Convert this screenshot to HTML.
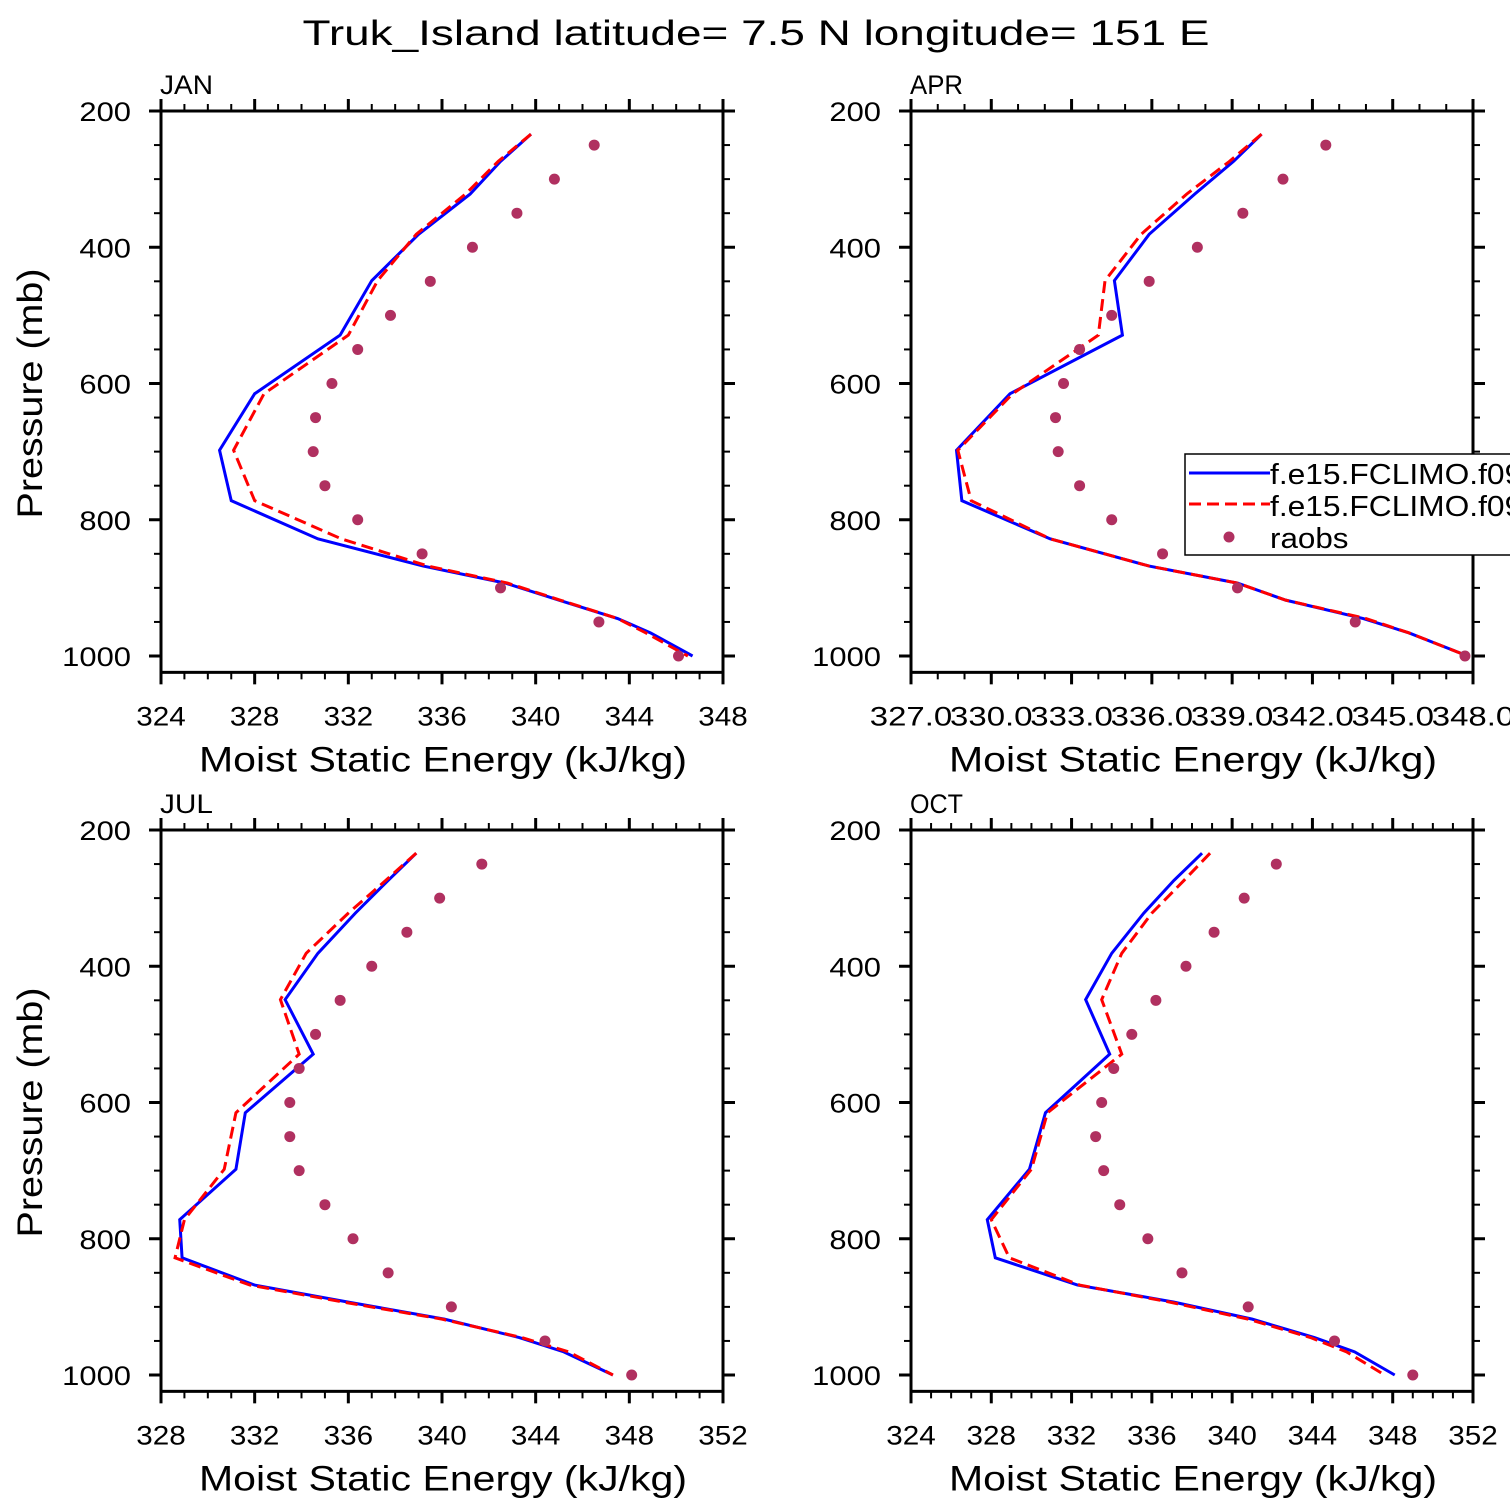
<!DOCTYPE html>
<html><head><meta charset="utf-8">
<style>
html,body{margin:0;padding:0;background:#fff;}
svg{display:block;font-family:"Liberation Sans",sans-serif;}
</style></head>
<body>
<svg id="chart" width="1510" height="1510" viewBox="0 0 1510 1510">
<text x="756" y="45" text-anchor="middle" font-size="35" fill="#000" textLength="907" lengthAdjust="spacingAndGlyphs">Truk_Island  latitude= 7.5 N longitude= 151 E</text>
</svg>
<script>
// ---- data ----
const modelLevels = [234,274,322,381,449,529,615,698,772,828,868,893,918,945,966,1000];
const raobLevels = [250,300,350,400,450,500,550,600,650,700,750,800,850,900,950,1000];

const janBlue = [339.8,338.5,337.2,335.0,333.0,331.65,328.0,326.5,327.0,330.7,335.2,338.7,341.0,343.5,344.9,346.7];
const janRed  = [339.8,338.4,337.0,334.9,333.25,332.0,328.4,327.1,328.0,331.7,335.4,338.8,341.05,343.5,344.7,346.5];
const janRaob = [342.5,340.8,339.2,337.3,335.5,333.8,332.4,331.3,330.6,330.5,331.0,332.4,335.15,338.5,342.7,346.1];

const aprBlue = [340.1,339.05,337.6,335.9,334.6,334.9,330.7,328.7,328.9,332.2,335.9,339.2,341.0,343.9,345.6,347.8];
const aprRed  = [340.1,338.9,337.3,335.6,334.25,334.0,330.8,328.75,329.25,332.2,335.9,339.2,341.0,344.0,345.6,347.8];
const aprRaob = [342.5,340.9,339.4,337.7,335.9,334.5,333.3,332.7,332.4,332.5,333.3,334.5,336.4,339.2,343.6,347.7];

const julBlue = [338.9,337.7,336.3,334.7,333.3,334.5,331.6,331.2,328.8,328.9,332.0,336.0,340.1,343.3,345.2,347.3];
const julRed  = [338.9,337.6,336.0,334.2,333.1,333.9,331.2,330.7,329.0,328.6,331.8,335.8,340.0,343.4,345.4,347.3];
const julRaob = [341.7,339.9,338.5,337.0,335.65,334.6,333.9,333.5,333.5,333.9,335.0,336.2,337.7,340.4,344.4,348.1];

const octBlue = [338.5,337.1,335.6,334.0,332.7,333.9,330.7,329.9,327.8,328.2,332.3,337.1,341.0,344.1,346.1,348.1];
const octRed  = [338.9,337.6,336.0,334.5,333.5,334.5,330.8,330.0,328.0,328.9,332.4,336.9,340.8,343.9,345.7,347.6];
const octRaob = [342.2,340.6,339.1,337.7,336.2,335.0,334.1,333.5,333.2,333.6,334.4,335.8,337.5,340.8,345.1,349.0];

const janTicks = [324,328,332,336,340,344,348];
const aprTicks = [327,330,333,336,339,342,345,348];
const julTicks = [328,332,336,340,344,348,352];
const octTicks = [324,328,332,336,340,344,348,352];
const pTicks = [200,400,600,800,1000];
const legendLabels = ["f.e15.FCLIMO.f09_f09","f.e15.FCLIMO.f09_f09","raobs"];

const NS = "http://www.w3.org/2000/svg";
const svg = document.getElementById('chart');
function mk(tag, attrs, parent){const e=document.createElementNS(NS,tag);for(const k in attrs)e.setAttribute(k,attrs[k]);(parent||svg).appendChild(e);return e;}

const panels = [
 {name:'jan',label:'JAN',x0:161,y0:111,xmin:324,xmax:348,ticks:janTicks,minor:1,fmt:v=>String(v),blue:janBlue,red:janRed,raob:janRaob,ylab:true},
 {name:'apr',label:'APR',x0:911,y0:111,xmin:327,xmax:348,ticks:aprTicks,minor:1,fmt:v=>v.toFixed(1),blue:aprBlue,red:aprRed,raob:aprRaob,ylab:false,legend:true},
 {name:'jul',label:'JUL',x0:161,y0:830,xmin:328,xmax:352,ticks:julTicks,minor:1,fmt:v=>String(v),blue:julBlue,red:julRed,raob:julRaob,ylab:true},
 {name:'oct',label:'OCT',x0:911,y0:830,xmin:324,xmax:352,ticks:octTicks,minor:1,fmt:v=>String(v),blue:octBlue,red:octRed,raob:octRaob,ylab:false}
];
const W=562, PPX=0.68125, PMAX=1024;

panels.forEach(P=>{
  const g = mk('g',{});
  
  
  const xs = v => P.x0 + (v-P.xmin)/(P.xmax-P.xmin)*W;
  const ys = p => P.y0 + (p-200)*PPX;
  const yb = ys(PMAX);
  const cid='clip-'+P.name;
  const cp=mk('clipPath',{id:cid},g); mk('rect',{x:P.x0,y:P.y0,width:W,height:yb-P.y0},cp);
  for(let v=P.xmin; v<=P.xmax+1e-9; v+=P.minor){
    const major = P.ticks.some(t=>Math.abs(t-v)<1e-6);
    const L = major?12:7;
    mk('line',{x1:xs(v),x2:xs(v),y1:P.y0,y2:P.y0-L,stroke:'#000','stroke-width':major?3:2},g);
    mk('line',{x1:xs(v),x2:xs(v),y1:yb,y2:yb+L,stroke:'#000','stroke-width':major?3:2},g);
  }
  for(let p=200;p<=1000;p+=50){
    const major = p%200===0;
    const L = major?12:7;
    mk('line',{x1:P.x0,x2:P.x0-L,y1:ys(p),y2:ys(p),stroke:'#000','stroke-width':major?3:2},g);
    mk('line',{x1:P.x0+W,x2:P.x0+W+L,y1:ys(p),y2:ys(p),stroke:'#000','stroke-width':major?3:2},g);
  }
  P.ticks.forEach(t=>{
    const s = P.fmt(t);
    const tl = mk('text',{x:xs(t),y:yb+53,'text-anchor':'middle','font-size':27,textLength:s.length*16.5,lengthAdjust:'spacingAndGlyphs'},g);
    tl.textContent = s;
    
    
  });
  pTicks.forEach(p=>{
    const s=String(p);
    const tl = mk('text',{x:P.x0-30,y:ys(p)+10,'text-anchor':'end','font-size':27,textLength:s.length*17.2,lengthAdjust:'spacingAndGlyphs'},g);
    tl.textContent = s;
    
    
  });
  const xt = mk('text',{x:P.x0+W/2+1,y:yb+99,'text-anchor':'middle','font-size':35,textLength:488,lengthAdjust:'spacingAndGlyphs'},g);
  xt.textContent='Moist Static Energy (kJ/kg)';
  
  
  if(P.ylab){
    const cy=(P.y0+ys(1000))/2+10;
    const yt = mk('text',{x:0,y:0,'text-anchor':'middle','font-size':35,textLength:250,lengthAdjust:'spacingAndGlyphs',transform:`translate(42,${cy}) rotate(-90)`},g);
    yt.textContent='Pressure (mb)';
    
    
  }
  const pl = mk('text',{x:P.x0-1,y:P.y0-17,'font-size':27,textLength:53,lengthAdjust:'spacingAndGlyphs'},g);
  pl.textContent=P.label;
  
  
  const dg = mk('g',{'clip-path':`url(#${cid})`},g);
  const ptsB = modelLevels.map((p,i)=>xs(P.blue[i])+','+ys(p)).join(' ');
  const ptsR = modelLevels.map((p,i)=>xs(P.red[i])+','+ys(p)).join(' ');
  const lb = mk('polyline',{points:ptsB,fill:'none',stroke:'#0000ff','stroke-width':3},dg);
  
  
  const lr = mk('polyline',{points:ptsR,fill:'none',stroke:'#ff0000','stroke-width':3,'stroke-dasharray':'12 6'},dg);
  
  
  raobLevels.forEach((p,i)=>{
    const c = mk('circle',{cx:xs(P.raob[i]),cy:ys(p),r:5.5,fill:'#b03060'},g);
    
    
  });
  mk('rect',{x:P.x0,y:P.y0,width:W,height:yb-P.y0,fill:'none',stroke:'#000','stroke-width':3},g);
  if(P.legend){
    const lg = mk('g',{},g);
    
    
    mk('rect',{x:1185,y:454,width:340,height:101,fill:'#fff',stroke:'#000','stroke-width':1.5},lg);
    mk('line',{x1:1189,x2:1270,y1:473,y2:473,stroke:'#0000ff','stroke-width':3},lg);
    mk('line',{x1:1189,x2:1270,y1:504,y2:504,stroke:'#ff0000','stroke-width':3,'stroke-dasharray':'12 6'},lg);
    mk('circle',{cx:1229,cy:537,r:5.5,fill:'#b03060'},lg);
    legendLabels.forEach((s,i)=>{
      const t = mk('text',{x:1270,y:484+i*32,'font-size':29,textLength:s.length*15.7,lengthAdjust:'spacingAndGlyphs'},lg);
      t.textContent=s;
      
      
    });
  }
});
</script>
</body></html>
